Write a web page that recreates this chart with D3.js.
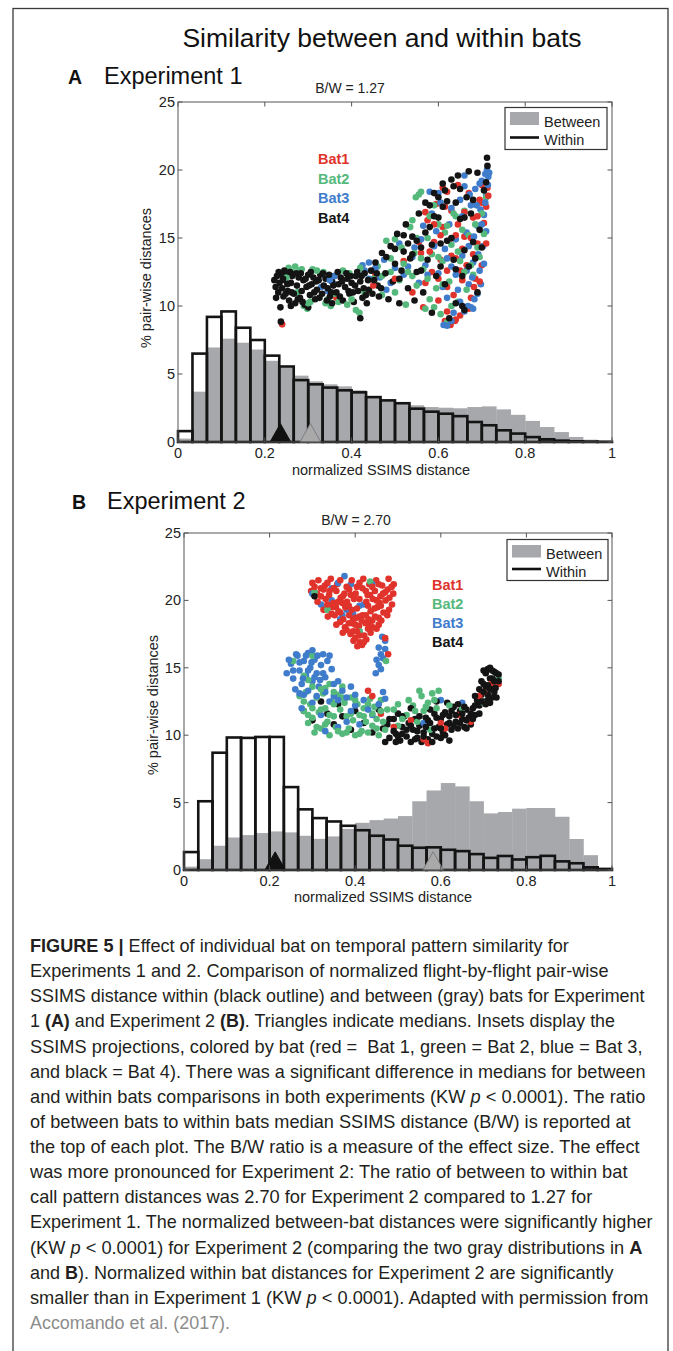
<!DOCTYPE html>
<html><head><meta charset="utf-8">
<script src="https://cdn.jsdelivr.net/npm/d3@7"></script>
<style>body{margin:0;background:#fff} svg{display:block} text{white-space:pre}</style>
</head><body>
<svg id="fig" width="673" height="1351"></svg>
<script>
// ---------------- DATA ----------------
const figureTitle = "Similarity between and within bats";
const panelLetters = ["A", "B"];
const panelTitles = ["Experiment 1", "Experiment 2"];
const ratioLabels = ["B/W = 1.27", "B/W = 2.70"];
const xTicks = [0, 0.2, 0.4, 0.6, 0.8, 1];
const xTickLabels = ["0", "0.2", "0.4", "0.6", "0.8", "1"];
const yTicks = [0, 5, 10, 15, 20, 25];
const yTickLabels = ["0", "5", "10", "15", "20", "25"];
const xAxisLabel = "normalized SSIMS distance";
const yAxisLabel = "% pair-wise distances";
const legendLabels = ["Between", "Within"];
const batNames = ["Bat1", "Bat2", "Bat3", "Bat4"];
const binCount = 30;

// histogram heights (% of pair-wise distances), 30 bins of width 1/30
const exp1Within  = [0.8, 6.5, 9.2, 9.6, 8.4, 7.5, 6.35, 5.55, 4.55, 4.24, 4.0, 3.8, 3.65, 3.3, 3.06, 2.85, 2.45, 2.23, 2.08, 1.9, 1.47, 1.23, 0.86, 0.62, 0.36, 0.2, 0.1, 0.05, 0.03, 0.02];
const exp1Between = [0.25, 3.7, 6.95, 7.6, 7.3, 6.8, 5.97, 5.45, 4.88, 4.46, 4.24, 4.09, 3.8, 3.32, 3.1, 2.87, 2.7, 2.57, 2.52, 2.48, 2.57, 2.62, 2.4, 2.0, 1.55, 1.1, 0.73, 0.37, 0.17, 0.07];
const exp2Within  = [1.33, 5.1, 8.7, 9.83, 9.8, 9.87, 9.87, 6.15, 4.5, 3.85, 3.6, 3.28, 2.95, 2.54, 2.26, 1.8, 1.65, 1.68, 1.5, 1.4, 1.18, 0.9, 1.04, 0.78, 0.95, 1.05, 0.64, 0.5, 0.2, 0.08];
const exp2Between = [0.25, 0.8, 1.8, 2.41, 2.59, 2.74, 2.86, 2.79, 2.54, 2.31, 2.49, 3.05, 3.5, 3.7, 3.82, 4.0, 5.1, 5.9, 6.45, 6.2, 5.1, 4.2, 4.3, 4.55, 4.6, 4.6, 3.95, 2.3, 1.1, 0.1];

// medians (triangles)
const exp1Medians = { within: 0.236, between: 0.305 };
const exp2Medians = { within: 0.213, between: 0.582 };

// SSIMS projection insets, plotted in the axes' own units
const exp1Bat1 = [[0.24,8.65],[0.365,10.6],[0.455,12.3],[0.52,13.3],[0.54,11.0],[0.555,14.7],[0.565,9.9],[0.575,16.3],[0.585,12.5],[0.59,14.7],[0.595,17.5],[0.6,10.4],[0.605,13.4],[0.61,15.8],[0.615,8.9],[0.62,12.6],[0.625,14.8],[0.63,17.0],[0.635,10.8],[0.64,13.5],[0.645,16.0],[0.65,9.3],[0.655,11.9],[0.66,15.1],[0.665,13.0],[0.67,18.3],[0.675,10.6],[0.68,16.5],[0.685,12.0],[0.69,14.6],[0.695,17.8],[0.7,13.0],[0.705,16.1],[0.71,17.3],[0.713,18.7],[0.628,8.6],[0.64,9.0],[0.682,11.4],[0.57,16.9],[0.645,18.9],[0.598,18.2],[0.62,18.4],[0.7,18.9],
  [0.56,13.9],[0.57,11.7],[0.58,14.0],[0.59,16.0],[0.6,12.0],[0.605,15.2],[0.615,17.3],[0.62,11.4],[0.63,13.7],[0.64,15.2],[0.65,12.6],[0.655,14.2],[0.66,16.9],[0.67,9.8],[0.675,15.0],[0.68,13.8],[0.69,16.6],[0.695,11.8],[0.7,17.6],[0.71,14.6],[0.715,18.1],[0.62,9.6],[0.638,8.9],[0.61,18.7],[0.45,11.5],[0.5,12.0]];
const exp1Bat2 = [[0.255,12.8],[0.262,12.5],[0.27,12.9],[0.28,12.6],[0.29,10.0],[0.298,9.8],[0.305,10.3],[0.275,11.0],[0.31,12.7],[0.335,12.5],[0.34,10.2],[0.345,10.5],[0.352,10.0],[0.36,10.9],[0.37,10.3],[0.38,12.6],[0.395,12.4],[0.41,9.7],[0.418,9.5],[0.43,11.0],[0.45,12.0],[0.46,12.9],[0.47,10.8],[0.48,14.8],[0.49,12.5],[0.5,14.9],[0.51,11.9],[0.52,13.1],[0.525,10.1],[0.535,15.8],[0.54,12.2],[0.545,13.9],[0.55,15.0],[0.56,18.4],[0.565,12.7],[0.57,9.8],[0.575,15.0],[0.58,10.5],[0.585,13.8],[0.59,17.4],[0.595,11.3],[0.6,16.0],[0.605,9.4],[0.61,13.3],[0.615,15.4],[0.62,8.8],[0.625,11.8],[0.63,14.5],[0.64,16.6],[0.645,10.3],[0.65,13.3],[0.66,17.0],[0.665,11.2],[0.67,15.2],[0.68,12.3],[0.69,14.3],[0.7,16.8],[0.71,18.0],[0.555,18.2],[0.548,18.0],
  [0.47,12.2],[0.49,13.5],[0.5,11.0],[0.515,14.3],[0.53,12.5],[0.54,16.3],[0.55,11.5],[0.56,13.5],[0.575,12.0],[0.58,16.6],[0.59,9.9],[0.6,13.6],[0.61,11.6],[0.62,15.9],[0.63,10.0],[0.635,16.8],[0.645,14.0],[0.655,15.6],[0.66,12.5],[0.675,13.0],[0.685,16.0],[0.695,13.6],[0.705,15.3],[0.25,12.1],[0.285,12.7],[0.3,10.2],[0.32,12.6],[0.39,10.1],[0.4,10.5],[0.42,12.8]];
const exp1Bat3 = [[0.33,11.4],[0.345,11.1],[0.36,11.6],[0.415,12.3],[0.425,13.0],[0.43,12.6],[0.44,13.2],[0.465,12.1],[0.475,13.4],[0.48,11.2],[0.5,12.8],[0.51,14.6],[0.53,12.9],[0.545,14.3],[0.555,11.7],[0.565,15.9],[0.57,13.0],[0.58,18.4],[0.59,14.4],[0.6,12.4],[0.605,17.6],[0.615,14.2],[0.62,10.6],[0.625,16.0],[0.63,12.9],[0.635,9.5],[0.64,14.9],[0.645,11.2],[0.65,17.8],[0.655,13.7],[0.66,9.6],[0.66,18.8],[0.665,15.4],[0.67,11.6],[0.675,17.4],[0.68,13.2],[0.683,10.5],[0.685,18.6],[0.69,15.9],[0.695,12.6],[0.697,17.1],[0.7,19.2],[0.703,14.4],[0.705,16.7],[0.708,19.7],[0.71,18.1],[0.712,20.0],[0.715,19.5],[0.698,11.6],[0.69,10.9],[0.675,9.9],[0.612,8.6],[0.62,8.55],[0.66,19.6],
  [0.44,12.0],[0.455,12.8],[0.49,11.7],[0.52,12.3],[0.54,13.6],[0.56,14.9],[0.575,12.3],[0.585,16.8],[0.595,15.5],[0.6,18.3],[0.61,11.4],[0.62,13.5],[0.63,17.2],[0.64,12.3],[0.65,10.3],[0.655,16.6],[0.665,12.6],[0.67,14.4],[0.672,18.2],[0.678,12.1],[0.682,15.1],[0.688,17.4],[0.692,13.8],[0.695,19.0],[0.7,16.0],[0.705,13.1],[0.708,17.6],[0.71,15.5],[0.714,18.9],[0.717,19.8],[0.68,9.8],[0.668,10.0],[0.63,8.9],[0.36,12.2],[0.35,11.9]];
const exp1Bat4 = [[0.222,11.9],[0.225,11.4],[0.228,12.2],[0.231,11.0],[0.234,11.7],[0.238,12.3],[0.24,11.3],[0.243,10.7],[0.246,11.9],[0.25,12.4],[0.253,11.1],[0.256,10.4],[0.26,11.7],[0.263,12.2],[0.267,10.9],[0.27,10.2],[0.274,11.5],[0.278,12.1],[0.281,10.6],[0.285,11.1],[0.289,11.9],[0.292,10.1],[0.296,11.4],[0.3,12.3],[0.304,10.8],[0.308,11.6],[0.312,12.1],[0.316,10.5],[0.32,11.2],[0.324,11.9],[0.328,12.3],[0.332,10.9],[0.336,11.5],[0.34,12.0],[0.345,11.3],[0.35,10.7],[0.355,11.8],[0.36,12.2],[0.365,11.0],[0.37,11.6],[0.375,12.1],[0.38,10.4],[0.385,11.4],[0.39,12.0],[0.395,10.9],[0.4,11.7],[0.405,10.3],[0.41,12.2],[0.415,11.1],[0.42,11.8],[0.425,10.6],[0.43,12.4],[0.236,9.9],[0.237,8.85],[0.42,9.1],[0.26,10.0],[0.3,9.9],[0.355,10.2],[0.245,12.6],[0.44,11.2],[0.445,12.6],[0.435,10.2],[0.455,13.2],[0.46,11.5],[0.47,13.9],[0.478,12.4],[0.485,10.5],[0.49,14.4],[0.495,11.8],[0.5,13.1],[0.505,15.3],[0.51,10.2],[0.515,12.6],[0.52,14.0],[0.525,16.0],[0.53,11.3],[0.535,13.5],[0.54,15.1],[0.545,10.4],[0.55,12.5],[0.555,16.8],[0.56,14.3],[0.565,11.0],[0.57,17.6],[0.575,13.4],[0.58,15.8],[0.585,9.5],[0.59,18.3],[0.595,12.2],[0.6,16.5],[0.605,14.6],[0.61,19.0],[0.615,11.6],[0.62,17.7],[0.625,9.1],[0.63,15.0],[0.635,18.8],[0.64,12.7],[0.645,19.6],[0.65,16.4],[0.655,10.0],[0.66,14.1],[0.665,18.0],[0.67,12.9],[0.675,16.8],[0.68,14.7],[0.69,19.8],[0.695,15.6],[0.705,18.5],[0.712,20.9],[0.713,20.3],[0.71,19.1],
  [0.226,10.6],[0.232,12.5],[0.242,12.0],[0.248,10.9],[0.252,11.6],[0.258,12.5],[0.262,11.0],[0.272,12.4],[0.276,10.5],[0.283,12.4],[0.287,10.3],[0.294,12.0],[0.302,11.5],[0.306,12.5],[0.314,11.0],[0.318,11.8],[0.326,10.6],[0.334,12.4],[0.343,10.4],[0.348,12.3],[0.353,11.0],[0.358,11.5],[0.368,12.5],[0.373,10.7],[0.378,11.8],[0.388,12.4],[0.393,11.1],[0.398,12.2],[0.403,11.0],[0.408,11.5],[0.413,12.5],[0.423,12.2],[0.428,11.3],[0.433,10.8],[0.438,11.9],[0.448,10.9],[0.452,11.9],[0.458,12.4],[0.463,10.7],[0.468,11.3],
  [0.48,13.6],[0.5,14.2],[0.51,12.0],[0.52,15.2],[0.53,14.6],[0.54,13.8],[0.55,14.8],[0.56,12.6],[0.57,15.4],[0.58,17.4],[0.585,14.5],[0.59,16.6],[0.6,18.0],[0.605,12.9],[0.61,17.3],[0.615,18.5],[0.62,14.8],[0.63,19.3],[0.635,13.4],[0.64,17.6],[0.65,18.6],[0.655,12.2],[0.66,16.5],[0.67,19.9],[0.68,17.8],[0.685,13.5],[0.69,11.0],[0.7,14.3],[0.64,10.2],[0.66,9.7]];

const exp2Bat1 = [[0.300,21.3],[0.314,21.5],[0.329,21.1],[0.343,21.6],[0.358,21.2],[0.392,21.5],[0.404,21.0],[0.419,21.6],[0.433,21.2],[0.449,21.5],[0.463,21.1],[0.478,21.6],[0.490,21.2],[0.297,20.7],[0.311,20.5],[0.326,20.8],[0.339,20.4],[0.356,20.7],[0.371,20.3],[0.386,20.8],[0.401,20.5],[0.417,20.9],[0.429,20.4],[0.446,20.7],[0.459,20.3],[0.476,20.8],[0.489,20.5],[0.312,19.9],[0.331,20.1],[0.349,19.8],[0.366,20.2],[0.381,19.9],[0.397,20.1],[0.426,19.9],[0.441,20.1],[0.457,19.8],[0.471,20.0],[0.486,19.7],[0.326,19.3],[0.347,19.5],[0.361,19.2],[0.377,19.5],[0.392,19.3],[0.404,19.4],[0.436,19.2],[0.452,19.5],[0.466,19.1],[0.479,19.3],[0.336,18.8],[0.352,18.9],[0.372,18.6],[0.386,18.9],[0.401,18.7],[0.417,18.9],[0.431,18.6],[0.446,18.8],[0.461,18.5],[0.356,18.2],[0.376,18.0],[0.391,18.3],[0.409,18.1],[0.424,18.3],[0.441,18.0],[0.455,18.2],[0.371,17.6],[0.389,17.5],[0.404,17.7],[0.421,17.4],[0.436,17.6],[0.396,17.0],[0.411,16.9],[0.426,17.1],[0.416,16.7],[0.470,17.2],[0.477,16.0],[0.43,13.3],[0.44,12.9],[0.46,11.6],[0.49,10.6],[0.53,11.1],[0.57,9.4],[0.61,10.5],[0.64,11.5],[0.67,11.0],[0.69,12.9],[0.70,13.2],[0.72,13.9],[0.735,13.8],[0.56,9.7],[0.6,10.9],
  [0.305,21.0],[0.32,20.9],[0.335,21.3],[0.35,20.9],[0.365,21.5],[0.38,21.0],[0.41,21.3],[0.425,20.7],[0.44,21.0],[0.455,21.2],[0.47,20.6],[0.485,21.0],[0.32,20.3],[0.34,20.7],[0.36,19.9],[0.375,20.5],[0.39,20.4],[0.41,20.1],[0.435,20.4],[0.45,20.0],[0.465,20.5],[0.48,20.2],[0.335,19.7],[0.355,19.5],[0.37,19.8],[0.385,19.6],[0.43,19.6],[0.445,19.4],[0.46,19.6],[0.475,18.9],[0.345,19.0],[0.365,19.1],[0.395,18.6],[0.41,18.8],[0.425,18.9],[0.44,18.5],[0.455,18.7],[0.365,18.4],[0.385,18.3],[0.4,18.2],[0.415,18.5],[0.435,18.2],[0.45,17.9],[0.38,17.8],[0.395,17.7],[0.41,17.4],[0.43,17.9],[0.4,17.2],[0.42,16.9],[0.405,16.6]];
const exp2Bat2 = [[0.27,12.9],[0.28,11.8],[0.285,13.2],[0.29,10.9],[0.295,12.3],[0.3,11.3],[0.305,10.2],[0.31,12.8],[0.315,11.7],[0.32,10.5],[0.325,13.1],[0.33,12.0],[0.335,11.0],[0.34,10.0],[0.345,12.5],[0.35,11.4],[0.355,10.6],[0.36,13.0],[0.365,11.9],[0.37,10.1],[0.375,12.4],[0.38,11.4],[0.385,10.5],[0.39,12.8],[0.395,11.1],[0.4,10.0],[0.405,12.3],[0.41,11.5],[0.415,10.3],[0.42,12.0],[0.425,11.0],[0.43,10.2],[0.435,12.7],[0.44,10.7],[0.445,12.1],[0.45,11.2],[0.455,10.0],[0.46,12.6],[0.465,11.0],[0.47,10.4],[0.3,13.6],[0.33,13.5],[0.34,13.8],[0.37,13.6],[0.29,14.1],[0.28,14.4],[0.255,15.5],[0.3,15.9],[0.5,10.7],[0.52,11.5],[0.535,12.2],[0.545,11.0],[0.555,12.9],[0.56,11.8],[0.57,12.4],[0.575,10.4],[0.58,13.1],[0.59,12.0],[0.5,12.3],[0.49,11.9],[0.305,20.6],[0.435,21.4],[0.41,17.7],[0.335,19.3],[0.735,14.2],[0.73,13.8],[0.7,12.4],[0.65,12.0],[0.472,15.5],
  [0.28,12.5],[0.29,11.5],[0.3,12.0],[0.31,10.6],[0.32,11.9],[0.33,10.8],[0.34,11.5],[0.35,12.3],[0.36,10.3],[0.37,12.8],[0.38,10.2],[0.39,11.6],[0.4,12.6],[0.41,10.1],[0.42,11.4],[0.43,12.3],[0.44,11.6],[0.45,10.5],[0.46,11.8],[0.475,11.9],[0.51,11.2],[0.525,12.6],[0.54,11.8],[0.55,13.3],[0.565,12.1],[0.585,12.6],[0.595,13.3],[0.62,12.2],[0.32,13.4],[0.35,13.2]];
const exp2Bat3 = [[0.375,21.8],[0.39,21.2],[0.345,20.9],[0.32,19.7],[0.327,19.4],[0.345,20.0],[0.38,19.3],[0.41,19.6],[0.42,19.7],[0.365,18.6],[0.37,18.9],[0.41,17.7],[0.395,19.0],[0.36,21.3],[0.3,20.5],[0.44,21.2],[0.463,17.3],[0.47,17.0],[0.455,16.5],[0.46,16.0],[0.45,15.6],[0.465,15.7],[0.455,15.2],[0.448,14.6],[0.47,16.4],[0.46,14.9],[0.24,14.6],[0.25,15.3],[0.255,14.2],[0.265,15.9],[0.27,14.8],[0.275,13.8],[0.28,15.5],[0.285,14.4],[0.29,16.1],[0.295,15.0],[0.3,14.0],[0.305,15.6],[0.31,14.6],[0.315,13.6],[0.32,15.2],[0.325,16.0],[0.33,14.3],[0.335,15.5],[0.26,13.4],[0.28,13.0],[0.345,14.9],[0.35,13.8],[0.36,14.0],[0.3,12.4],[0.275,12.0],[0.32,11.5],[0.34,12.5],[0.37,13.3],[0.38,11.0],[0.4,12.2],[0.42,12.6],[0.44,11.5],[0.455,12.3],[0.36,10.6],[0.47,12.7],[0.33,10.3],[0.41,10.8],[0.56,10.9],[0.6,12.6],[0.65,12.4],[0.39,13.6],
  [0.245,15.6],[0.255,14.8],[0.262,16.0],[0.27,15.4],[0.278,14.2],[0.285,15.9],[0.29,14.8],[0.298,15.4],[0.305,14.3],[0.312,15.9],[0.318,14.1],[0.3,16.3],[0.27,13.1],[0.29,13.3],[0.325,14.6],[0.34,15.9],[0.33,13.2],[0.35,12.9],[0.36,12.6],[0.31,12.9],[0.39,11.8],[0.43,11.9],[0.4,13.0],[0.38,12.8],[0.465,13.2]];
const exp2Bat4 = [[0.28,11.8],[0.3,11.1],[0.32,12.5],[0.335,11.6],[0.35,10.8],[0.36,12.3],[0.37,11.4],[0.39,10.4],[0.4,11.8],[0.42,10.9],[0.44,10.2],[0.455,11.9],[0.465,10.5],[0.47,9.5],[0.475,10.8],[0.48,9.8],[0.49,11.2],[0.495,10.1],[0.5,11.6],[0.505,9.6],[0.51,10.6],[0.515,11.4],[0.52,9.9],[0.525,10.9],[0.53,9.5],[0.535,10.4],[0.54,11.2],[0.545,9.8],[0.55,10.7],[0.555,9.5],[0.56,10.2],[0.565,11.3],[0.57,9.7],[0.575,10.9],[0.58,10.1],[0.585,11.6],[0.59,9.9],[0.595,10.6],[0.6,11.2],[0.605,10.2],[0.61,11.7],[0.615,10.8],[0.62,11.4],[0.625,10.4],[0.63,12.1],[0.635,11.0],[0.64,10.5],[0.645,11.8],[0.65,11.2],[0.655,10.6],[0.66,11.9],[0.665,11.3],[0.67,10.8],[0.675,12.0],[0.68,11.5],[0.685,12.6],[0.69,12.2],[0.695,13.0],[0.7,12.5],[0.705,13.6],[0.71,13.0],[0.715,14.2],[0.72,13.5],[0.725,14.7],[0.73,14.1],[0.705,14.6],[0.695,14.0],[0.715,12.4],[0.72,14.8],[0.725,13.2],[0.73,12.8],[0.735,14.5],[0.7,13.8],[0.71,14.9],[0.59,12.5],[0.53,12.0],[0.545,10.3],[0.575,11.9],[0.615,12.4],[0.64,12.3],[0.66,10.5],[0.51,10.1],[0.495,9.5],[0.6,9.8],[0.62,9.6],[0.305,20.3],
  [0.48,11.2],[0.49,10.3],[0.5,9.9],[0.51,11.4],[0.52,10.4],[0.53,10.7],[0.54,9.7],[0.55,11.4],[0.56,9.9],[0.565,10.6],[0.57,11.1],[0.58,9.5],[0.585,10.5],[0.59,11.3],[0.6,10.5],[0.605,11.5],[0.61,10.0],[0.62,10.9],[0.625,11.8],[0.63,10.7],[0.635,11.5],[0.645,10.9],[0.65,11.6],[0.655,12.1],[0.66,11.1],[0.67,11.6],[0.675,11.2],[0.68,12.2],[0.69,11.6],[0.695,12.5],[0.7,13.2],[0.705,12.3],[0.71,13.7],[0.715,13.4],[0.72,14.2],[0.725,14.0],[0.73,14.6],[0.735,14.0],[0.72,12.8],[0.71,12.6],[0.69,13.4],[0.68,12.9],[0.7,14.8],[0.715,15.0],[0.728,13.5]];

const captionLines = [
  [["FIGURE 5 | ", "b"], ["Effect of individual bat on temporal pattern similarity for", ""]],
  [["Experiments 1 and 2. Comparison of normalized flight-by-flight pair-wise", ""]],
  [["SSIMS distance within (black outline) and between (gray) bats for Experiment", ""]],
  [["1 ", ""], ["(A)", "b"], [" and Experiment 2 ", ""], ["(B)", "b"], [". Triangles indicate medians. Insets display the", ""]],
  [["SSIMS projections, colored by bat (red =  Bat 1, green = Bat 2, blue = Bat 3,", ""]],
  [["and black = Bat 4). There was a significant difference in medians for between", ""]],
  [["and within bats comparisons in both experiments (KW ", ""], ["p", "i"], [" < 0.0001). The ratio", ""]],
  [["of between bats to within bats median SSIMS distance (B/W) is reported at", ""]],
  [["the top of each plot. The B/W ratio is a measure of the effect size. The effect", ""]],
  [["was more pronounced for Experiment 2: The ratio of between to within bat", ""]],
  [["call pattern distances was 2.70 for Experiment 2 compared to 1.27 for", ""]],
  [["Experiment 1. The normalized between-bat distances were significantly higher", ""]],
  [["(KW ", ""], ["p", "i"], [" < 0.0001) for Experiment 2 (comparing the two gray distributions in ", ""], ["A", "b"]],
  [["and ", ""], ["B", "b"], ["). Normalized within bat distances for Experiment 2 are significantly", ""]],
  [["smaller than in Experiment 1 (KW ", ""], ["p", "i"], [" < 0.0001). Adapted with permission from", ""]],
  [["Accomando et al. (2017).", "g"]]
];

// ---------------- STYLE / LAYOUT ----------------
const batColors = ["#e0332b", "#55b97c", "#3f7ccb", "#141414"];
const gray = "#a7a8ab";
const axisFont = "'Liberation Sans', Arial, Helvetica, sans-serif";
const captionEnds = [569, 609, 645, 615, 643, 646, 646, 631, 640, 628, 593, 653, 643, 614, 649, 230];

const svg = d3.select("#fig");
svg.append("rect").attr("width", 673).attr("height", 1351).attr("fill", "#fff");
svg.append("rect").attr("x", 13).attr("y", 8.5).attr("width", 655).attr("height", 1400)
  .attr("fill", "none").attr("stroke", "#3a3a3a").attr("stroke-width", 1.3);

svg.append("text").attr("x", 382).attr("y", 47).attr("text-anchor", "middle")
  .attr("font-family", axisFont).attr("font-size", 26.5).attr("fill", "#111").text(figureTitle);

const panels = [
  { x0: 178, x1: 612, y0: 442, y1: 102, letterX: 68, titleX: 104, headY: 84, ratioX: 350, ratioY: 92.5,
    ylabX: 151, ylabY: 278, xlabX: 381, xlabY: 475, xtickY: 458,
    leg: { x: 505, y: 107.5, w: 102, h: 42, sw: 29, swY: 112, swH: 13, lineY: 137.5, tx: 544, t1: 127, t2: 144.5 },
    batX: 318, batY: [164, 183.5, 203, 222.5],
    within: exp1Within, between: exp1Between, med: exp1Medians,
    bats: [exp1Bat1, exp1Bat2, exp1Bat3, exp1Bat4] },
  { x0: 184, x1: 612, y0: 870, y1: 533, letterX: 72, titleX: 107, headY: 509, ratioX: 356, ratioY: 525,
    ylabX: 158, ylabY: 705, xlabX: 383, xlabY: 902, xtickY: 886,
    leg: { x: 507, y: 539.5, w: 101, h: 41, sw: 29, swY: 545, swH: 12.5, lineY: 569, tx: 546, t1: 558.5, t2: 577 },
    batX: 432, batY: [590, 609, 628, 647],
    within: exp2Within, between: exp2Between, med: exp2Medians,
    bats: [exp2Bat1, exp2Bat2, exp2Bat3, exp2Bat4] }
];

panels.forEach((p, pi) => {
  const x = d3.scaleLinear().domain([0, 1]).range([p.x0, p.x1]);
  const y = d3.scaleLinear().domain([0, 25]).range([p.y0, p.y1]);
  const g = svg.append("g").attr("font-family", axisFont);
  const bw = 1 / binCount;

  // headings
  g.append("text").attr("x", p.letterX).attr("y", p.headY).attr("font-size", 19.5).attr("font-weight", "bold")
    .attr("fill", "#111").text(panelLetters[pi]);
  g.append("text").attr("x", p.titleX).attr("y", p.headY).attr("font-size", 23.5).attr("fill", "#111").text(panelTitles[pi]);
  g.append("text").attr("x", p.ratioX).attr("y", p.ratioY).attr("text-anchor", "middle").attr("font-size", 14)
    .attr("fill", "#222").text(ratioLabels[pi]);

  // between histogram (gray)
  g.append("g").selectAll("rect").data(p.between).join("rect")
    .attr("x", (d, i) => x(i * bw)).attr("width", x(bw) - x(0) + 0.3)
    .attr("y", d => y(d)).attr("height", d => y(0) - y(d)).attr("fill", gray);

  // within histogram (black outline)
  g.append("g").selectAll("rect").data(p.within).join("rect")
    .attr("x", (d, i) => x(i * bw)).attr("width", x(bw) - x(0))
    .attr("y", d => y(d)).attr("height", d => y(0) - y(d))
    .attr("fill", "none").attr("stroke", "#141414").attr("stroke-width", 2.6).attr("stroke-linejoin", "miter");

  // median triangles
  const tri = (m) => [[x(m - 0.024), y(0)], [x(m), y(1.35)], [x(m + 0.024), y(0)]];
  g.append("path").attr("d", d3.line()(tri(p.med.between)) + "Z").attr("fill", "#a9a9aa").attr("stroke", "#7d7d7d").attr("stroke-width", 1);
  g.append("path").attr("d", d3.line()(tri(p.med.within)) + "Z").attr("fill", "#111").attr("stroke", "#111").attr("stroke-width", 1);

  // scatter inset, interleaved so colors mix
  const pts = [];
  const maxLen = d3.max(p.bats, b => b.length);
  for (let i = 0; i < maxLen; i++) {
    [3, 1, 0, 2].forEach(b => { if (i < p.bats[b].length) pts.push({ v: p.bats[b][i], b }); });
  }
  g.append("g").selectAll("circle").data(pts).join("circle")
    .attr("cx", d => x(d.v[0])).attr("cy", d => y(d.v[1])).attr("r", 3.3)
    .attr("fill", d => batColors[d.b]);

  // axes box
  g.append("rect").attr("x", p.x0).attr("y", p.y1).attr("width", p.x1 - p.x0).attr("height", p.y0 - p.y1)
    .attr("fill", "none").attr("stroke", "#555").attr("stroke-width", 1);
  const tl = 4.5;
  xTicks.forEach((t, i) => {
    g.append("line").attr("x1", x(t)).attr("x2", x(t)).attr("y1", p.y0).attr("y2", p.y0 - tl).attr("stroke", "#555");
    g.append("line").attr("x1", x(t)).attr("x2", x(t)).attr("y1", p.y1).attr("y2", p.y1 + tl).attr("stroke", "#555");
    g.append("text").attr("x", x(t)).attr("y", p.xtickY).attr("text-anchor", "middle").attr("font-size", 14.5)
      .attr("fill", "#222").text(xTickLabels[i]);
  });
  yTicks.forEach((t, i) => {
    g.append("line").attr("x1", p.x0).attr("x2", p.x0 + tl).attr("y1", y(t)).attr("y2", y(t)).attr("stroke", "#555");
    g.append("line").attr("x1", p.x1).attr("x2", p.x1 - tl).attr("y1", y(t)).attr("y2", y(t)).attr("stroke", "#555");
    g.append("text").attr("x", p.x0 - 3).attr("y", y(t) + 5).attr("text-anchor", "end").attr("font-size", 14.5)
      .attr("fill", "#222").text(yTickLabels[i]);
  });
  g.append("text").attr("x", p.xlabX).attr("y", p.xlabY).attr("text-anchor", "middle").attr("font-size", 14.5)
    .attr("fill", "#222").text(xAxisLabel);
  g.append("text").attr("transform", `translate(${p.ylabX},${p.ylabY}) rotate(-90)`).attr("text-anchor", "middle")
    .attr("font-size", 14.5).attr("fill", "#222").text(yAxisLabel);

  // legend
  const L = p.leg;
  g.append("rect").attr("x", L.x).attr("y", L.y).attr("width", L.w).attr("height", L.h)
    .attr("fill", "#fff").attr("stroke", "#333").attr("stroke-width", 1.2);
  g.append("rect").attr("x", L.x + 5).attr("y", L.swY).attr("width", L.sw).attr("height", L.swH).attr("fill", gray);
  g.append("line").attr("x1", L.x + 5).attr("x2", L.x + 5 + L.sw).attr("y1", L.lineY).attr("y2", L.lineY)
    .attr("stroke", "#111").attr("stroke-width", 2.6);
  g.append("text").attr("x", L.tx).attr("y", L.t1).attr("font-size", 14.5).attr("fill", "#222").text(legendLabels[0]);
  g.append("text").attr("x", L.tx).attr("y", L.t2).attr("font-size", 14.5).attr("fill", "#222").text(legendLabels[1]);

  // bat labels
  batNames.forEach((n, i) => {
    g.append("text").attr("x", p.batX).attr("y", p.batY[i]).attr("font-size", 14.5).attr("font-weight", "bold")
      .attr("fill", batColors[i]).text(n);
  });
});

// caption
const capX = 30, capY0 = 952, capLH = 25.13;
const cg = svg.append("g").attr("font-family", "'Liberation Sans', Arial, sans-serif").attr("font-size", 17.5).attr("fill", "#231f20");
captionLines.forEach((segs, i) => {
  const t = cg.append("text").attr("x", 0).attr("y", 0);
  segs.forEach(([s, st]) => {
    const ts = t.append("tspan").text(s);
    if (st.includes("b")) ts.attr("font-weight", "bold");
    if (st.includes("i")) ts.attr("font-style", "italic");
    if (st.includes("g")) ts.attr("fill", "#8c8c8c");
  });
  const len = t.node().getComputedTextLength();
  const sx = (captionEnds[i] - capX) / len;
  t.attr("transform", `translate(${capX},${capY0 + i * capLH}) scale(${sx},1)`);
});
</script>
</body></html>
